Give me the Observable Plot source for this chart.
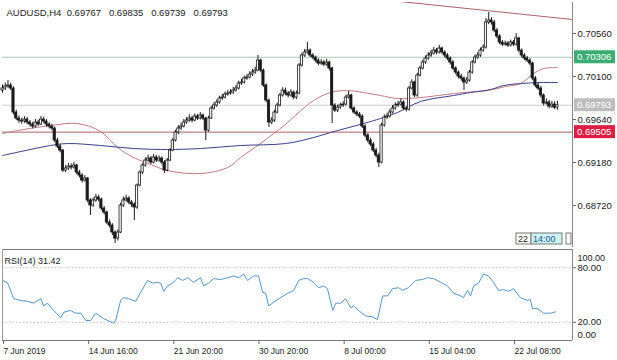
<!DOCTYPE html>
<html><head><meta charset="utf-8">
<script src="https://cdn.jsdelivr.net/npm/d3@7"></script>
<script src="https://cdn.jsdelivr.net/npm/@observablehq/plot@0.6"></script>
<style>
body{margin:0;background:#fff;}
#chart{position:relative;width:617px;height:360px;overflow:hidden;background:#fff;}
#chart svg{position:absolute;left:0;}
</style></head><body><div id="chart"></div>
<script>
// ---- data (prices in 1e-5 units, H4 bars, left to right) ----
const open5 = [69950,69972,69993,70004,69972,69715,69651,69629,69619,69640,
69608,69587,69565,69608,69587,69640,69619,69587,69565,69544,
69415,69351,69308,69094,69116,69137,69127,69148,69073,69041,
68987,69009,68774,68720,68774,68806,68784,68688,68645,68538,
68506,68431,68367,68431,68720,68774,68795,68752,68731,68699,
68934,69073,69148,69201,69223,69180,69234,69201,69223,69180,
69094,69201,69308,69415,69501,69544,69565,69608,69629,69651,
69629,69672,69651,69683,69651,69522,69651,69758,69790,69822,
69865,69875,69907,69918,69929,69950,69972,70025,70036,70079,
70089,70121,70143,70164,70271,70164,70004,69843,69608,69629,
69715,69790,69897,69950,69918,69897,69929,69875,69918,70218,
70325,70357,70378,70325,70303,70271,70239,70250,70228,70250,
70186,69790,69736,69768,69790,69800,69875,69897,69758,69715,
69694,69672,69565,69469,69415,69373,69308,69255,69180,69576,
69661,69672,69715,69758,69790,69800,69822,69758,69747,69972,
70036,69897,70111,70186,70250,70293,70325,70346,70378,70357,
70400,70357,70325,70293,70250,70186,70143,70100,70079,70036,
70057,70143,70250,70303,70325,70378,70410,70678,70699,70678,
70592,70528,70464,70442,70453,70432,70464,70442,70507,70378,
70325,70293,70271,70239,70079,70004,69972,69897,69811,69822,
69779,69800,69767];
const high5 = [70010,70030,70057,70030,69990,69740,69680,69655,69670,69662,
69630,69610,69640,69632,69672,69665,69640,69605,69590,69560,
69440,69375,69320,69150,69170,69165,69180,69160,69095,69060,
69040,69020,68795,68800,68840,68830,68800,68710,68660,68565,
68525,68450,68460,68745,68810,68830,68815,68775,68750,68950,
69090,69170,69230,69260,69245,69265,69255,69250,69240,69200,
69225,69330,69440,69525,69575,69600,69640,69660,69690,69675,
69700,69695,69715,69700,69665,69675,69780,69820,69850,69890,
69910,69935,69950,69960,69985,70005,70050,70070,70105,70120,
70150,70175,70200,70325,70285,70180,70020,69860,69660,69740,
69815,69920,69980,69975,69940,69960,69945,69945,70240,70350,
70390,70464,70395,70345,70320,70290,70280,70270,70285,70265,
70200,69810,69795,69815,69830,69900,69940,69910,69775,69735,
69715,69690,69585,69490,69440,69395,69330,69280,69600,69690,
69705,69745,69790,69820,69835,69860,69840,69780,69995,70065,
70050,70135,70210,70275,70320,70355,70380,70410,70400,70432,
70415,70375,70345,70310,70270,70205,70160,70125,70095,70090,
70165,70270,70330,70355,70405,70440,70720,70785,70730,70700,
70615,70550,70485,70480,70475,70490,70485,70560,70520,70395,
70345,70315,70290,70255,70100,70030,69995,69915,69860,69845,
69835,69830,69835];
const low5 = [69920,69950,69975,69950,69690,69630,69600,69590,69600,69585,
69560,69540,69550,69565,69575,69598,69560,69540,69520,69395,
69330,69285,69075,69070,69095,69100,69110,69050,69015,68960,
68970,68750,68613,68700,68755,68760,68665,68620,68515,68480,
68400,68314,68340,68420,68700,68760,68730,68700,68560,68680,
68920,69050,69130,69185,69160,69165,69180,69185,69155,69062,
69080,69190,69295,69400,69480,69525,69550,69590,69610,69605,
69615,69630,69635,69630,69415,69505,69640,69740,69770,69805,
69845,69860,69890,69900,69910,69935,69955,70005,70020,70060,
70075,70100,70125,70150,70140,69985,69820,69554,69585,69610,
69700,69775,69880,69895,69870,69880,69850,69855,69905,70200,
70305,70340,70305,70280,70250,70215,70220,70205,70210,70160,
69597,69715,69715,69750,69770,69785,69860,69740,69695,69670,
69650,69545,69445,69390,69350,69285,69230,69127,69165,69560,
69640,69655,69700,69740,69770,69785,69735,69720,69730,69955,
69875,69880,70095,70170,70230,70275,70305,70330,70335,70340,
70335,70300,70270,70225,70165,70120,70075,70050,69950,70015,
70040,70125,70235,70285,70305,70360,70395,70655,70650,70570,
70505,70440,70420,70425,70410,70415,70420,70425,70355,70300,
70270,70250,70215,70055,69980,69950,69870,69785,69795,69755,
69760,69745,69739];
const close5 = [69972,69993,70004,69972,69715,69651,69629,69619,69640,69608,
69587,69565,69608,69587,69640,69619,69587,69565,69544,69415,
69351,69308,69094,69116,69137,69127,69148,69073,69041,68987,
69009,68774,68720,68774,68806,68784,68688,68645,68538,68506,
68431,68367,68431,68720,68774,68795,68752,68731,68699,68934,
69073,69148,69201,69223,69180,69234,69201,69223,69180,69094,
69201,69308,69415,69501,69544,69565,69608,69629,69651,69629,
69672,69651,69683,69651,69522,69651,69758,69790,69822,69865,
69875,69907,69918,69929,69950,69972,70025,70036,70079,70089,
70121,70143,70164,70271,70164,70004,69843,69608,69629,69715,
69790,69897,69950,69918,69897,69929,69875,69918,70218,70325,
70357,70378,70325,70303,70271,70239,70250,70228,70250,70186,
69790,69736,69768,69790,69800,69875,69897,69758,69715,69694,
69672,69565,69469,69415,69373,69308,69255,69180,69576,69661,
69672,69715,69758,69790,69800,69822,69758,69747,69972,70036,
69897,70111,70186,70250,70293,70325,70346,70378,70357,70400,
70357,70325,70293,70250,70186,70143,70100,70079,70036,70057,
70143,70250,70303,70325,70378,70410,70678,70699,70678,70592,
70528,70464,70442,70453,70432,70464,70442,70507,70378,70325,
70293,70271,70239,70079,70004,69972,69897,69811,69822,69779,
69800,69767,69793];

// moving averages (bar position, price)
const maRedBar = [0,5.5,17.5,27.4,35.7,41.9,47.7,54,60.1,72.1,82,86.7,92.9,98.7,103,107.4,113.2,119.4,125.6,131.4,137.6,143.8,152.2,161.3,167.8,176.6,183.1,188.6,193.3,197,202];
const maRedPrice = [0.69490,0.69522,0.69576,0.69597,0.69512,0.69341,0.69234,0.69159,0.69094,0.69062,0.69127,0.69234,0.69362,0.69490,0.69587,0.69704,0.69843,0.69929,0.69950,0.69929,0.69897,0.69865,0.69875,0.69907,0.69929,0.69950,0.69993,0.70025,0.70132,0.70186,0.70196];
const maBlueBar = [0,17.5,23.7,35.7,47.7,60.1,72.1,86.7,103,113.2,119.4,131.4,137.6,143.8,152.2,164.2,170.4,177.7,182.4,188.6,196,202];
const maBluePrice = [0.69255,0.69362,0.69383,0.69362,0.69330,0.69319,0.69330,0.69362,0.69383,0.69447,0.69501,0.69597,0.69651,0.69715,0.69833,0.69897,0.69929,0.69961,0.70004,0.70025,0.70036,0.70036];

// trend line
const trendBar = [144.9, 207.5];
const trendPrice = [0.70902, 0.70710];

// horizontal levels
const levelPrice = [0.70306, 0.69793, 0.69505];
const levelLine = ["#a9c8b6", "#cfcfcf", "#b0606c"];
const levelBox = ["#3aae72", "#bdbdbd", "#dc1e44"];

// RSI(14)
const rsiBar = [0.1,1.9,4.1,6.6,9.2,11.4,13.9,15,16.4,18.6,21.2,22.3,24.8,26.6,28.5,30.3,32.1,33.9,36.8,40.5,41.2,43,44.1,45.9,48.5,50.3,52.8,54.7,56.5,57.6,58.7,60.1,61.9,63.8,65.6,67.4,69.6,72.1,73.2,75,76.9,79.4,82,84.1,86,87.8,89.2,91.4,93.2,94.7,95.8,96.9,98.7,101.2,103.8,106,107.8,109.6,111.1,113.2,115.1,116.9,118.3,120.2,121.3,123.1,124.9,126.7,127.8,129.6,132.2,134.7,136.5,138.4,140.2,142,144.2,145.6,147.8,150.4,152.9,154.7,156.9,159.5,162,164.2,166.8,167.8,169.3,170.4,171.5,173.3,175.1,176.9,178.7,180.6,182.4,184.2,186,188.6,191.1,192.2,192.9,194.8,197,199.5,201.3];
const rsiValue = [66,63,46,44,43,41,46,38,41,33,25,31,33,30,30,22,22,30,24,19,22,44,47,46,43,53,66,63,64,63,54,60,63,69,66,69,64,69,60,63,68,67,69,71,69,73,66,71,71,53,52,38,42,47,52,55,66,68,68,64,58,60,57,33,41,41,46,36,38,33,27,26,23,49,49,57,58,55,58,66,67,69,68,64,60,52,49,47,55,49,60,63,73,71,64,55,56,54,57,47,44,45,35,35,30,30,31.42];
const rsiTicks = [80, 20];

// axes and texts
const priceTicks = [0.70560, 0.70100, 0.69640, 0.69180, 0.68720];
const timeTickBars = [0, 31, 62, 93, 124, 155, 186];
const timeTickLabels = ["7 Jun 2019","14 Jun 16:00","21 Jun 20:00","30 Jun 20:00","8 Jul 00:00","15 Jul 04:00","22 Jul 08:00"];
const symbolText = "AUDUSD,H4";
const ohlcTexts = ["0.69767", "0.69835", "0.69739", "0.69793"];
const rsiTitle = "RSI(14) 31.42";
const markerDay = "22";
const markerTime = "14:00";

// ---- build tables ----
const bars = close5.map((c, i) => ({i, o: open5[i]/1e5, h: high5[i]/1e5, l: low5[i]/1e5, c: c/1e5}));
const maRed = maRedBar.map((b, k) => ({b, p: maRedPrice[k]}));
const maBlue = maBlueBar.map((b, k) => ({b, p: maBluePrice[k]}));
const trend = trendBar.map((b, k) => ({b, p: trendPrice[k]}));
const levels = levelPrice.map((p, k) => ({p, line: levelLine[k], box: levelBox[k]}));
const rsi = rsiBar.map((b, k) => ({b, v: rsiValue[k]}));
const timeLabel = new Map(timeTickBars.map((b, k) => [b, timeTickLabels[k]]));
const NB = "\u00a0";
const titleText = symbolText + NB + NB + ohlcTexts.join(NB + NB + NB);
const FONT = '"Liberation Sans", Arial, sans-serif';
const XDOM = [0, 207.5];

function priceBoxes(index, scales, values, dim) {
  const g = d3.create("svg:g").attr("font-family", FONT).attr("font-size", 9.5).attr("text-anchor", "start");
  const x0 = dim.width - dim.marginRight + 2;
  for (const lv of levels) {
    const y = scales.y(lv.p);
    g.append("rect").attr("x", x0).attr("y", y - 6.5).attr("width", 41).attr("height", 13).attr("fill", lv.box);
    g.append("text").attr("x", x0 + 3).attr("y", y).attr("dy", "0.35em").attr("fill", "#fff").text(lv.p.toFixed(5));
  }
  return g.node();
}

function timeMarker(index, scales, values, dim) {
  const g = d3.create("svg:g").attr("font-family", FONT).attr("font-size", 9).attr("text-anchor", "start");
  const right = dim.width - dim.marginRight;
  const yb = dim.height - dim.marginBottom - 2;
  g.append("rect").attr("x", right - 56).attr("y", yb - 12).attr("width", 15).attr("height", 11).attr("fill", "#fff").attr("stroke", "#777");
  g.append("text").attr("x", right - 54).attr("y", yb - 6.5).attr("dy", "0.35em").attr("fill", "#222").text(markerDay);
  g.append("rect").attr("x", right - 41).attr("y", yb - 12).attr("width", 31).attr("height", 11).attr("fill", "#cdf3f3").attr("stroke", "#777");
  g.append("text").attr("x", right - 39).attr("y", yb - 6.5).attr("dy", "0.35em").attr("fill", "#1c5a8a").text(markerTime);
  g.append("rect").attr("x", right - 6).attr("y", yb - 12).attr("width", 5).attr("height", 11).attr("fill", "#fff").attr("stroke", "#777");
  return g.node();
}

const main = Plot.plot({
  width: 617, height: 248,
  marginTop: 2, marginBottom: 1, marginLeft: 2, marginRight: 45,
  x: {domain: XDOM, axis: null},
  y: {domain: [0.68271, 0.70892], axis: null},
  style: {fontFamily: FONT, fontSize: "9.5px", color: "#222", background: "transparent"},
  marks: [
    Plot.ruleY(levels, {y: "p", stroke: "line", strokeWidth: 1}),
    Plot.line(maRed, {x: "b", y: "p", stroke: "#c27a82", strokeWidth: 1, curve: "catmull-rom"}),
    Plot.line(maBlue, {x: "b", y: "p", stroke: "#3a3f8a", strokeWidth: 1, curve: "catmull-rom"}),
    Plot.line(trend, {x: "b", y: "p", stroke: "#b0606c", strokeWidth: 1, clip: true}),
    Plot.ruleX(bars, {x: "i", y1: "l", y2: "h", stroke: "#1a1a1a", strokeWidth: 1}),
    Plot.rect(bars, {x1: d => d.i - 0.4, x2: d => d.i + 0.4,
      y1: d => Math.min(d.o, d.c), y2: d => Math.max(d.o, d.c),
      fill: d => d.c >= d.o ? "#fff" : "#1a1a1a", stroke: "#1a1a1a", strokeWidth: 0.8}),
    Plot.ruleX([XDOM[1]], {stroke: "#888"}),
    Plot.axisY(priceTicks, {anchor: "right", label: null, tickSize: 3, tickPadding: 2, tickFormat: d => d.toFixed(5), stroke: "#666"}),
    priceBoxes,
    timeMarker,
    Plot.text([titleText], {frameAnchor: "top-left", dx: 4, dy: 7, textAnchor: "start", fontSize: 9.5, fill: "#222"})
  ]
});
main.style.top = "0px";

const sub = Plot.plot({
  width: 617, height: 112,
  marginTop: 1, marginBottom: 20, marginLeft: 2, marginRight: 45,
  x: {domain: XDOM, axis: null},
  y: {domain: [0, 100], axis: null},
  style: {fontFamily: FONT, fontSize: "9.5px", color: "#222", background: "transparent"},
  marks: [
    Plot.ruleY(rsiTicks, {stroke: "#bdbdbd", strokeDasharray: "1.5,2"}),
    Plot.line(rsi, {x: "b", y: "v", stroke: "#5596c6", strokeWidth: 1}),
    Plot.ruleY([100], {stroke: "#777"}),
    Plot.ruleY([0], {stroke: "#777"}),
    Plot.ruleX([XDOM[0]], {stroke: "#999"}),
    Plot.ruleX([XDOM[1]], {stroke: "#888"}),
    Plot.axisY(rsiTicks, {anchor: "right", label: null, tickSize: 3, tickPadding: 2, tickFormat: d => d.toFixed(2), stroke: "#666"}),
    Plot.text(["100.00"], {frameAnchor: "top-right", dx: 5, dy: 5, textAnchor: "start", fill: "#222", fontSize: 9}),
    Plot.text(["0.00"], {frameAnchor: "bottom-right", dx: 5, dy: -3, textAnchor: "start", fill: "#222"}),
    Plot.text([rsiTitle], {frameAnchor: "top-left", dx: 2, dy: 8, textAnchor: "start", fontSize: 9, fill: "#222"}),
    Plot.axisX(timeTickBars, {anchor: "bottom", label: null, tickSize: 4, tickPadding: 3, tickFormat: d => timeLabel.get(d), textAnchor: "start", dx: 1, fontSize: 8.5, stroke: "#666"})
  ]
});
sub.style.top = "248px";

const root = document.getElementById("chart");
root.appendChild(main);
root.appendChild(sub);
</script>
</body></html>
